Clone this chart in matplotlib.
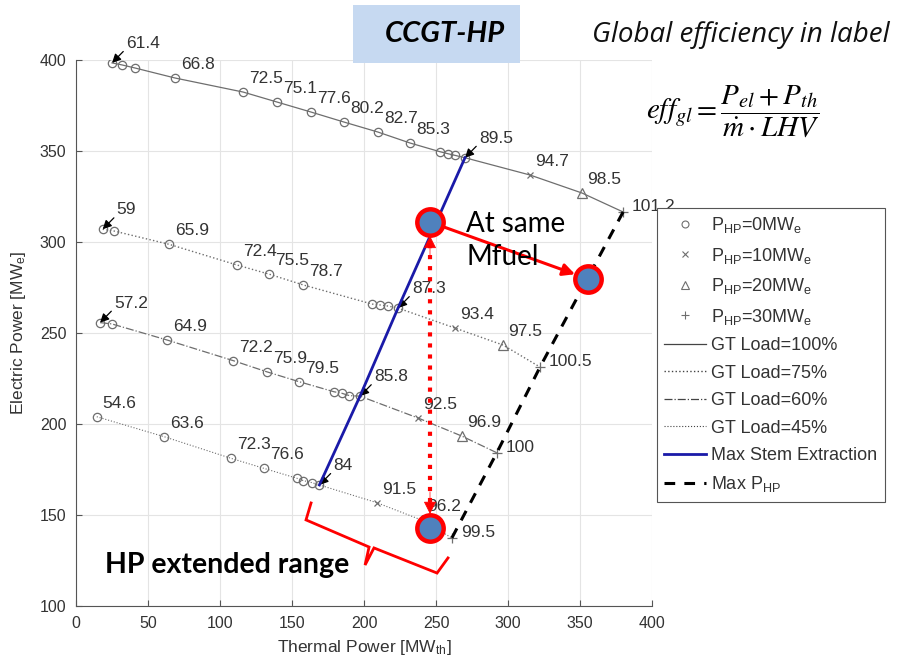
import matplotlib.pyplot as plt
from matplotlib.patches import Rectangle

plt.rcParams["font.family"] = "Liberation Sans"
plt.rcParams["mathtext.fontset"] = "custom"
plt.rcParams["mathtext.rm"] = "Liberation Sans"
plt.rcParams["mathtext.it"] = "Liberation Sans:italic"

# ---- GT load 100 % : P_HP = 0 points, then P_HP = 10 / 20 / 30 MW
x100 = [25.0, 31.9, 41.0, 68.8, 116.0, 139.6, 163.2, 186.1, 209.7, 231.9, 252.8, 258.3, 263.2, 270.1]
y100 = [398.4, 397.3, 395.6, 390.1, 382.4, 376.9, 371.4, 365.9, 360.4, 354.4, 349.6, 348.5, 347.6, 346.3]
lab100 = ["61.4", None, None, "66.8", "72.5", "75.1", "77.6", "80.2", "82.7", "85.3", None, None, None, "89.5"]
hx100 = [315.3, 351.4, 379.9]
hy100 = [336.8, 326.9, 316.5]
hlab100 = ["94.7", "98.5", "101.2"]

# ---- GT load 75 %
x75 = [18.5, 26.6, 64.8, 111.6, 134.2, 157.8, 205.6, 211.1, 216.7, 223.6]
y75 = [307.0, 306.0, 298.7, 287.4, 282.3, 276.4, 265.9, 265.4, 264.8, 263.7]
lab75 = ["59", None, "65.9", "72.4", "75.5", "78.7", None, None, None, "87.3"]
hx75 = [263.2, 296.5, 322.2]
hy75 = [252.7, 243.4, 231.3]
hlab75 = ["93.4", "97.5", "100.5"]

# ---- GT load 60 %
x60 = [16.7, 24.8, 63.0, 109.2, 132.4, 155.1, 179.2, 184.5, 189.8, 197.2]
y60 = [255.7, 255.0, 246.2, 234.8, 228.7, 223.2, 217.7, 216.9, 215.6, 215.3]
lab60 = ["57.2", None, "64.9", "72.2", "75.9", "79.5", None, None, None, "85.8"]
hx60 = [237.5, 267.8, 292.2]
hy60 = [203.3, 193.4, 184.2]
hlab60 = ["92.5", "96.9", "100"]

# ---- GT load 45 %
x45 = [14.4, 61.3, 107.4, 130.6, 153.3, 157.8, 163.7, 169.0]
y45 = [204.0, 193.0, 181.2, 175.6, 170.2, 168.9, 167.8, 166.5]
lab45 = ["54.6", "63.6", "72.3", "76.6", None, None, None, "84"]
hx45 = [208.8, 240.0, 261.0]
hy45 = [156.8, 147.2, 137.4]
hlab45 = ["91.5", "96.2", "99.5"]

# highlighted operating points (red circles)
sel_x = [245.8, 355.6, 245.8]
sel_y = [311.0, 279.7, 142.9]

# bracket for "HP extended range"
brace_x = [163.2, 159.7, 203.5, 200.7, 206.9, 250.7, 258.3]
brace_y = [156.6, 147.3, 132.4, 122.5, 131.9, 118.1, 126.4]

loads = [
    ("GT Load=100%", "-", 0.9, x100, y100, lab100, hx100, hy100, hlab100, True),
    ("GT Load=75%", ":", 1.0, x75, y75, lab75, hx75, hy75, hlab75, True),
    ("GT Load=60%", "-.", 0.9, x60, y60, lab60, hx60, hy60, hlab60, True),
    ("GT Load=45%", ":", 0.8, x45, y45, lab45, hx45, hy45, hlab45, False),
]

gray = "#6e6e6e"
txt = "#333333"

fig = plt.figure(figsize=(9.03, 6.66), dpi=100)
ax = fig.add_axes([0.0842, 0.0901, 0.6379, 0.8198])

for name, ls, lw, xs, ys, labs, hx, hy, hlabs, first_arrow in loads:
    ax.plot(xs + hx, ys + hy, ls=ls, lw=lw, color=gray, zorder=2)
    ax.plot(xs, ys, "o", ms=6, mfc="none", mec=gray, mew=0.9, zorder=3)
    ax.plot(hx[0], hy[0], "x", ms=4.5, color=gray, mew=0.9, zorder=3)
    ax.plot(hx[1], hy[1], "^", ms=7, mfc="none", mec=gray, mew=0.9, zorder=3)
    ax.plot(hx[2], hy[2], "+", ms=7, color=gray, mew=0.9, zorder=3)
    last = len(xs) - 1
    for i, lab in enumerate(labs):
        if lab is None:
            continue
        if i == last or (i == 0 and first_arrow):
            ax.annotate(lab, (xs[i], ys[i]), xytext=(14, 12), textcoords="offset pixels",
                        ha="left", va="bottom", fontsize=12.5, color=txt,
                        arrowprops=dict(arrowstyle="-|>", color="k", lw=0.9,
                                        mutation_scale=13, shrinkA=0, shrinkB=0,
                                        relpos=(0.0, 0.15)))
        else:
            ax.annotate(lab, (xs[i], ys[i]), xytext=(6, 6), textcoords="offset pixels",
                        ha="left", va="bottom", fontsize=12.5, color=txt)
    offs = [(5, 6), (5, 6), (9, -2)]
    for j in range(3):
        ax.annotate(hlabs[j], (hx[j], hy[j]), xytext=offs[j], textcoords="offset pixels",
                    ha="left", va="bottom", fontsize=12.5, color=txt)

# max steam extraction line (through last P_HP=0 point of each load)
stem_x = [x100[-1], x75[-1], x60[-1], x45[-1]]
stem_y = [y100[-1], y75[-1], y60[-1], y45[-1]]
ax.plot(stem_x, stem_y, color="#1a1aa8", lw=2.0, zorder=4)

# max P_HP line (through the P_HP=30 points)
php_x = [hx100[-1], hx75[-1], hx60[-1], hx45[-1]]
php_y = [hy100[-1], hy75[-1], hy60[-1], hy45[-1]]
ax.plot(php_x, php_y, color="k", lw=2.2, ls=(0, (3.5, 3)), zorder=4)

# red annotations
ax.annotate("", xy=(sel_x[1], sel_y[1]), xytext=(sel_x[0], sel_y[0]),
            arrowprops=dict(arrowstyle="-|>", color="red", lw=2.2, mutation_scale=18,
                            shrinkA=11, shrinkB=10), zorder=5)
ax.plot([sel_x[0], sel_x[2]], [sel_y[0] - 12, sel_y[2] + 12], ":", color="red", lw=3, zorder=5)
ax.annotate("", xy=(sel_x[0], sel_y[0]), xytext=(0, -26), textcoords="offset points",
            arrowprops=dict(arrowstyle="-|>", color="red", lw=0.5, mutation_scale=20,
                            shrinkA=0, shrinkB=10), zorder=5)
ax.annotate("", xy=(sel_x[2], sel_y[2]), xytext=(0, 26), textcoords="offset points",
            arrowprops=dict(arrowstyle="-|>", color="red", lw=0.5, mutation_scale=20,
                            shrinkA=0, shrinkB=10), zorder=5)
ax.plot(sel_x, sel_y, "o", ls="none", ms=19, mfc="#4f81bd", mec="red", mew=3.2, zorder=6)
ax.plot(brace_x, brace_y, color="red", lw=2, zorder=5, solid_joinstyle="miter")

ax.text(270.8, 317, "At same\nMfuel", family="Lato", fontsize=20, va="top", ha="left",
        linespacing=1.35, color="k", zorder=7)
ax.text(20, 122.5, "HP extended range", family="Lato", fontweight="bold", fontsize=20.5,
        va="center", ha="left", color="k", zorder=7)

# legend
h = []
h.append(ax.plot([], [], "o", ms=5, mfc="none", mec=gray, mew=0.8,
                 label=r"P$_{\rm HP}$=0MW$_{\rm e}$")[0])
h.append(ax.plot([], [], "x", ms=4.5, color=gray, mew=0.8,
                 label=r"P$_{\rm HP}$=10MW$_{\rm e}$")[0])
h.append(ax.plot([], [], "^", ms=6, mfc="none", mec=gray, mew=0.8,
                 label=r"P$_{\rm HP}$=20MW$_{\rm e}$")[0])
h.append(ax.plot([], [], "+", ms=6, color=gray, mew=0.8,
                 label=r"P$_{\rm HP}$=30MW$_{\rm e}$")[0])
for name, ls, lw, *_ in loads:
    h.append(ax.plot([], [], ls=ls, lw=lw, color="#444444", label=name)[0])
h.append(ax.plot([], [], color="#1a1aa8", lw=2.0, label="Max Stem Extraction")[0])
h.append(ax.plot([], [], color="k", lw=2.2, ls=(0, (3.5, 3)), label=r"Max P$_{\rm HP}$")[0])
leg = fig.legend(handles=h, loc="upper left", bbox_to_anchor=(0.7276, 0.6877),
                 fontsize=13, frameon=True, fancybox=False, framealpha=1,
                 edgecolor="#555555", handlelength=2.3, handletextpad=0.3,
                 labelspacing=0.58, borderpad=0.4, borderaxespad=0)
leg.get_frame().set_linewidth(0.8)
for t in leg.get_texts():
    t.set_color(txt)

ax.set_xlim(0, 400)
ax.set_ylim(100, 400)
ax.set_xticks(range(0, 401, 50))
ax.set_yticks(range(100, 401, 50))
ax.grid(True, color="#e4e4e4", lw=0.8)
ax.set_axisbelow(True)
for s in ["top", "right"]:
    ax.spines[s].set_visible(False)
for s in ["left", "bottom"]:
    ax.spines[s].set_color("#555555")
ax.tick_params(direction="in", length=4, color="#555555", labelcolor=txt, labelsize=11.5, pad=7)
ax.set_xlabel(r"Thermal Power [MW$_{\rm th}$]", fontsize=12.5, color=txt, labelpad=5)
ax.set_ylabel(r"Electric Power [MW$_{\rm e}$]", fontsize=12.5, color=txt, labelpad=8)

# title box and notes
fig.add_artist(Rectangle((353 / 903, 1 - 63 / 666), 167 / 903, 58 / 666,
                         transform=fig.transFigure, facecolor="#c6d9f1", edgecolor="none"))
fig.text(445 / 903, 1 - 34 / 666, "CCGT-HP", family="Lato", fontweight="bold",
         style="italic", fontsize=21, ha="center", va="center")
fig.text(592 / 903, 1 - 35 / 666, "Global efficiency in label", family="Open Sans",
         style="italic", fontsize=20, ha="left", va="center", color="#111111")
fig.text(733 / 903, 1 - 112 / 666, r"$eff_{gl} = \dfrac{P_{el}+P_{th}}{\dot{m}\cdot LHV}$",
         math_fontfamily="stix", fontsize=21, ha="center", va="center")

fig.savefig("out.png", dpi=100)
